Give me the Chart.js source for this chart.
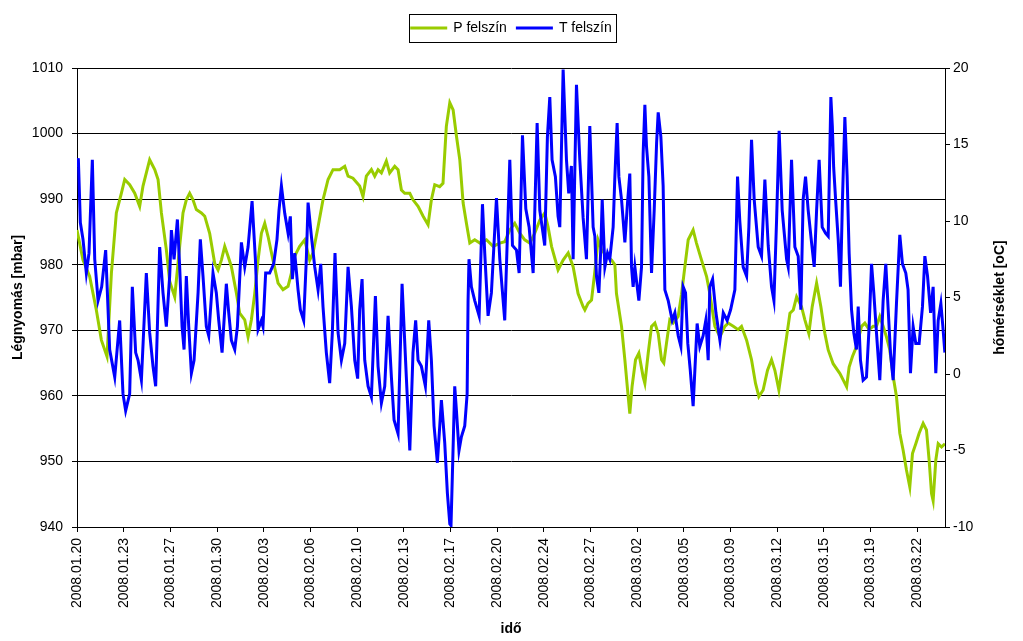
<!DOCTYPE html>
<html>
<head>
<meta charset="utf-8">
<script src="https://cdn.jsdelivr.net/npm/chart.js@4.4.0/dist/chart.umd.min.js"></script>
<style>
  html, body { margin: 0; padding: 0; background: #fff; }
</style>
</head>
<body>
<canvas id="chart" width="1023" height="641"></canvas>
<script>
// --- Datos: idő napokban 2008.01.20-tól ---
const tickLabels = [
  '2008.01.20', '2008.01.23', '2008.01.27', '2008.01.30', '2008.02.03',
  '2008.02.06', '2008.02.10', '2008.02.13', '2008.02.17', '2008.02.20',
  '2008.02.24', '2008.02.27', '2008.03.02', '2008.03.05', '2008.03.09',
  '2008.03.12', '2008.03.15', '2008.03.19', '2008.03.22'
];
const tickStep = 3.5; // nap

// P felszín [mbar]
const pDays = [
  0, 0.45, 0.95, 1.45, 1.83, 2.25, 2.58, 2.95, 3.33, 3.58,
  3.95, 4.33, 4.7, 4.95, 5.2, 5.45, 5.83, 6.08, 6.33, 6.7,
  6.95, 7.33, 7.7, 7.95, 8.2, 8.45, 8.7, 8.95, 9.33, 9.58,
  9.95, 10.33, 10.58, 10.83, 11.08, 11.33, 11.58, 11.96, 12.2, 12.58,
  12.83, 13.08, 13.33, 13.58, 13.83, 14.08, 14.33, 14.7, 15.08, 15.45,
  15.83, 16.08, 16.2, 16.45, 16.7, 17.08, 17.45, 17.7, 18.08, 18.45,
  18.83, 19.2, 19.7, 20.08, 20.33, 20.7, 21.2, 21.45, 21.7, 22.08,
  22.33, 22.58, 22.83, 23.2, 23.45, 23.83, 24.08, 24.33, 24.58, 24.96,
  25.2, 25.58, 25.96, 26.33, 26.58, 26.83, 27.2, 27.45, 27.7, 27.96,
  28.21, 28.46, 28.71, 28.96, 29.21, 29.46, 29.83, 30.21, 30.71, 31.21,
  31.71, 32.08, 32.46, 32.83, 33.21, 33.58, 33.96, 34.33, 34.71, 35.08,
  35.33, 35.59, 36.08, 36.46, 36.84, 37.21, 37.58, 37.96, 38.09, 38.33,
  38.59, 38.84, 39.08, 39.34, 39.71, 40.09, 40.34, 40.46, 40.84, 41.09,
  41.29, 41.46, 41.63, 41.89, 42.14, 42.46, 42.59, 42.84, 43.09, 43.34,
  43.59, 43.84, 44.01, 44.21, 44.46, 44.71, 45.09, 45.34, 45.59, 45.84,
  46.21, 46.46, 46.84, 47.22, 47.46, 47.84, 48.22, 48.59, 48.84, 49.22,
  49.59, 49.84, 50.22, 50.59, 50.89, 51.14, 51.46, 51.79, 52.09, 52.34,
  52.64, 52.89, 53.22, 53.47, 53.72, 53.97, 54.34, 54.59, 54.89, 55.14,
  55.47, 55.79, 56.09, 56.34, 56.71, 57.22, 57.47, 57.72, 57.91, 58.16,
  58.46, 58.84, 59.09, 59.41, 59.71, 59.96, 60.21, 60.46, 60.71, 60.96,
  61.21, 61.46, 61.71, 61.96, 62.21, 62.46, 62.66, 62.91, 63.16, 63.46,
  63.71, 63.91, 64.09, 64.21, 64.41, 64.59, 64.84, 65.09
];
const pValues = [
  985.3, 980.7, 978.2, 973.1, 968.5, 966.0, 978.7, 987.9, 990.9, 993.0,
  992.2, 990.9, 988.9, 992.0, 994.0, 996.0, 994.5, 993.0, 987.9, 982.3,
  977.5, 975.1, 982.8, 987.9, 989.9, 990.9, 989.9, 988.4, 987.9, 987.4,
  984.8, 980.2, 979.2, 980.7, 982.8, 981.3, 979.7, 975.6, 972.6, 971.6,
  969.0, 971.6, 975.6, 980.7, 984.8, 986.3, 984.3, 980.7, 977.2, 976.2,
  976.7, 978.7, 980.7, 981.8, 982.8, 983.8, 980.7, 981.8, 985.8, 989.9,
  993.0, 994.5, 994.5, 995.0, 993.5, 993.2, 992.0, 990.4, 993.5, 994.5,
  993.5, 994.5, 994.0, 995.8, 994.0, 995.0, 994.5, 991.4, 990.9, 990.9,
  989.9, 988.9, 987.4, 986.1, 989.9, 992.2, 991.9, 992.4, 1001.1, 1004.7,
  1003.6, 999.6, 996.0, 989.4, 986.3, 983.3, 983.8, 983.3, 983.8, 982.8,
  983.3, 983.5, 985.3, 986.3, 984.8, 983.8, 983.3, 984.8, 986.8, 987.9,
  985.8, 982.8, 979.2, 980.7, 981.8, 979.7, 975.6, 973.6, 973.1, 974.1,
  974.6, 979.0, 983.8, 982.3, 981.3, 980.7, 980.0, 975.6, 970.6, 965.5,
  961.0, 957.3, 961.4, 965.5, 966.5, 962.9, 961.9, 966.5, 970.6, 971.1,
  969.5, 965.5, 965.0, 968.0, 971.6, 971.1, 972.1, 975.5, 979.7, 983.8,
  985.3, 983.3, 980.7, 978.2, 975.6, 970.6, 969.0, 970.6, 971.1, 970.6,
  970.1, 970.6, 968.5, 965.5, 961.9, 959.9, 960.9, 963.9, 965.5, 963.9,
  960.9, 964.4, 969.0, 972.6, 973.1, 975.1, 973.6, 971.6, 969.5, 973.6,
  977.2, 973.6, 969.5, 967.0, 964.9, 963.4, 962.4, 961.4, 964.4, 966.0,
  967.5, 970.6, 971.1, 970.1, 970.6, 970.6, 972.1, 970.6, 969.0, 967.0,
  963.0, 959.9, 954.3, 951.7, 948.7, 946.1, 951.2, 952.7, 954.3, 955.8,
  954.8, 950.2, 945.1, 944.0, 950.2, 952.7, 952.2, 952.7
];

// T felszín [oC]
const tDays = [
  0, 0.1, 0.25, 0.45, 0.7, 0.9, 1.15, 1.33, 1.58, 1.85,
  2.15, 2.45, 2.83, 3.2, 3.45, 3.65, 3.95, 4.15, 4.4, 4.58,
  4.83, 5.2, 5.45, 5.7, 5.9, 6.2, 6.45, 6.7, 6.95, 7.08,
  7.28, 7.53, 7.7, 7.88, 8.03, 8.2, 8.38, 8.58, 8.78, 9.08,
  9.25, 9.45, 9.7, 9.88, 10.2, 10.45, 10.63, 10.88, 11.2, 11.38,
  11.58, 11.83, 12.03, 12.33, 12.58, 12.83, 13.13, 13.38, 13.58, 13.83,
  13.95, 14.15, 14.45, 14.75, 15.0, 15.15, 15.33, 15.58, 15.83, 16.0,
  16.15, 16.33, 16.58, 16.75, 17.0, 17.2, 17.33, 17.58, 17.83, 18.08,
  18.28, 18.45, 18.7, 18.95, 19.15, 19.35, 19.58, 19.83, 20.08, 20.33,
  20.58, 20.83, 21.05, 21.2, 21.38, 21.58, 21.83, 22.08, 22.38, 22.58,
  22.83, 23.08, 23.33, 23.58, 23.78, 24.08, 24.38, 24.7, 24.96, 25.2,
  25.4, 25.58, 25.83, 26.13, 26.38, 26.58, 26.78, 27.03, 27.33, 27.58,
  27.78, 27.96, 28.05, 28.15, 28.33, 28.45, 28.65, 28.83, 29.08, 29.26,
  29.33, 29.4, 29.58, 29.83, 30.16, 30.41, 30.58, 30.83, 31.08, 31.46,
  31.71, 32.08, 32.46, 32.66, 32.96, 33.16, 33.41, 33.66, 33.91, 34.21,
  34.51, 34.71, 35.08, 35.28, 35.46, 35.63, 35.88, 36.08, 36.21, 36.46,
  36.71, 36.88, 37.08, 37.21, 37.46, 37.71, 37.96, 38.21, 38.46, 38.71,
  38.84, 38.96, 39.14, 39.29, 39.39, 39.59, 39.79, 39.96, 40.21, 40.34,
  40.51, 40.64, 40.84, 41.09, 41.29, 41.46, 41.59, 41.71, 41.84, 41.96,
  42.14, 42.34, 42.46, 42.59, 42.71, 42.89, 43.09, 43.29, 43.47, 43.59,
  43.79, 43.96, 44.09, 44.34, 44.64, 44.84, 45.09, 45.29, 45.46, 45.64,
  45.81, 45.99, 46.21, 46.51, 46.71, 46.96, 47.16, 47.34, 47.46, 47.67,
  47.92, 48.22, 48.47, 48.76, 49.02, 49.34, 49.54, 49.71, 49.96, 50.22,
  50.39, 50.59, 50.79, 51.09, 51.34, 51.59, 51.84, 52.09, 52.27, 52.47,
  52.66, 52.89, 53.22, 53.34, 53.59, 53.84, 54.09, 54.29, 54.46, 54.64,
  54.84, 55.09, 55.29, 55.47, 55.66, 55.89, 56.14, 56.34, 56.54, 56.65,
  56.75, 56.91, 57.09, 57.26, 57.41, 57.59, 57.76, 57.91, 58.09, 58.26,
  58.46, 58.59, 58.76, 58.96, 59.21, 59.41, 59.59, 59.76, 59.96, 60.21,
  60.46, 60.66, 60.84, 61.01, 61.21, 61.46, 61.71, 61.91, 62.16, 62.33,
  62.51, 62.71, 62.91, 63.16, 63.41, 63.59, 63.79, 64.02, 64.21, 64.41,
  64.59, 64.79, 64.94, 65.09
];
const tValues = [
  13.5, 14.1, 9.9, 8.8, 6.6, 7.9, 14.0, 7.5, 4.8, 5.7,
  8.1, 1.6, -0.2, 3.5, -1.3, -2.4, -1.3, 5.7, 1.4, 0.9,
  -0.4, 6.6, 2.7, 0.5, -0.8, 8.3, 5.3, 3.1, 6.4, 9.4,
  7.5, 10.1, 7.0, 3.1, 1.6, 6.4, 3.1, 0.05, 0.9, 5.3,
  8.8, 6.4, 3.1, 2.5, 6.6, 5.3, 3.5, 1.4, 5.9, 4.0,
  2.2, 1.6, 3.1, 8.6, 7.0, 8.3, 11.3, 7.5, 2.9, 3.5,
  3.1, 6.6, 6.6, 7.2, 8.8, 10.7, 12.3, 10.5, 9.2, 10.3,
  6.2, 7.9, 5.5, 4.2, 3.5, 7.5, 11.2, 9.0, 7.0, 5.5,
  7.2, 4.4, 1.4, -0.6, 2.7, 7.9, 2.7, 0.9, 2.0, 7.0,
  4.4, 0.9, -0.3, 4.2, 6.2, 0.9, -0.8, -1.5, 5.1, 0.5,
  -1.9, -0.8, 3.8, -0.2, -3.0, -3.9, 5.9, -0.2, -5.0, 1.4,
  3.5, 0.9, 0.5, -0.8, 3.5, 0.9, -3.4, -5.8, -1.7, -4.5,
  -7.8, -9.8, -9.9, -6.7, -0.8, -2.3, -5.0, -4.1, -3.4, -1.3,
  4.8, 7.5, 5.7, 4.8, 3.8, 11.1, 7.9, 3.8, 5.3, 11.5,
  7.5, 3.5, 14.0, 8.4, 8.1, 6.6, 15.6, 10.8, 9.6, 6.6,
  16.4, 10.7, 8.4, 15.5, 18.1, 14.0, 12.9, 10.3, 9.6, 19.9,
  14.0, 11.8, 13.6, 7.5, 18.9, 14.0, 10.2, 7.5, 16.2, 9.6,
  9.0, 6.4, 5.3, 8.3, 11.4, 7.0, 7.9, 7.5, 9.6, 12.9,
  16.4, 12.9, 11.4, 8.6, 11.2, 13.1, 7.0, 5.7, 7.0, 6.1,
  4.8, 7.0, 14.4, 17.6, 14.9, 12.9, 6.6, 10.7, 15.1, 17.1,
  15.5, 12.3, 5.5, 4.8, 3.5, 4.0, 2.5, 1.8, 5.7, 5.3,
  2.0, 0.3, -2.1, 3.3, 1.8, 2.5, 3.5, 0.9, 5.7, 6.2,
  4.0, 2.2, 4.0, 3.5, 4.2, 5.5, 12.9, 10.0, 7.0, 6.4,
  9.6, 15.3, 11.4, 8.3, 7.7, 12.7, 8.4, 5.7, 4.8, 10.1,
  15.9, 10.7, 7.5, 7.0, 14.0, 8.3, 7.7, 4.2, 11.4, 12.9,
  10.7, 8.6, 7.0, 10.7, 14.0, 9.6, 9.2, 9.0, 18.1, 16.2,
  13.5, 11.2, 8.8, 5.7, 11.4, 16.8, 12.9, 7.9, 4.2, 2.7,
  1.6, 4.4, 0.9, -0.4, -0.2, 3.1, 7.2, 5.3, 2.7, -0.4,
  4.8, 7.2, 4.2, 1.4, -0.4, 4.6, 9.1, 7.2, 6.6, 5.5,
  0.05, 3.1, 2.0, 2.0, 4.4, 7.7, 6.4, 4.0, 5.7, 0.05,
  3.5, 4.6, 3.1, 1.4
];

const FONT = '"Liberation Sans", Arial, sans-serif';
const rightTitle = 'hőmérséklet [oC]';

// keret a jelmagyarázat köré, hely alatta, jobb oldali tengelycím
const chartExtras = {
  id: 'chartExtras',
  beforeLayout(chart) {
    const lg = chart.legend;
    if (lg && !lg._fixedHeight) {
      const fit = lg.fit;
      lg.fit = function () { fit.call(this); this.height = 57; };
      lg._fixedHeight = true;
    }
  },
  afterDraw(chart) {
    const ctx = chart.ctx;
    const boxes = chart.legend && chart.legend.legendHitBoxes;
    if (boxes && boxes.length) {
      const first = boxes[0];
      const last = boxes[boxes.length - 1];
      const cy = Math.round(first.top + first.height / 2);
      ctx.save();
      ctx.strokeStyle = '#000';
      ctx.lineWidth = 1;
      ctx.strokeRect(Math.round(first.left) - 1.5, cy - 13.5,
        Math.round(last.left + last.width - first.left) + 6, 28);
      ctx.restore();
    }
    // jobb tengely címe, alulról felfelé olvasva (mint a bal oldali)
    const s = chart.scales.y1;
    const area = chart.chartArea;
    ctx.save();
    ctx.translate(s.right - 23, (area.top + area.bottom) / 2);
    ctx.rotate(-Math.PI / 2);
    ctx.font = 'bold 14px ' + FONT;
    ctx.fillStyle = '#000';
    ctx.textAlign = 'center';
    ctx.textBaseline = 'middle';
    ctx.fillText(rightTitle, 0, 0);
    ctx.restore();
  }
};

const ctx = document.getElementById('chart').getContext('2d');
new Chart(ctx, {
  type: 'line',
  data: {
    datasets: [{
      label: 'P felszín',
      data: pDays.map((d, i) => ({ x: d, y: pValues[i] })),
      yAxisID: 'y',
      borderColor: '#99CC00',
      backgroundColor: '#99CC00',
      borderWidth: 3,
      pointRadius: 0,
      order: 1
    }, {
      label: 'T felszín',
      data: tDays.map((d, i) => ({ x: d, y: tValues[i] })),
      yAxisID: 'y1',
      borderColor: '#0000FF',
      backgroundColor: '#0000FF',
      borderWidth: 3,
      pointRadius: 0,
      order: 0
    }]
  },
  options: {
    responsive: false,
    animation: false,
    events: [],
    layout: { padding: { top: 11, left: 0, right: 0, bottom: 0 } },
    plugins: {
      legend: {
        position: 'top',
        labels: {
          boxWidth: 35,
          boxHeight: 1,
          padding: 10,
          color: '#000',
          font: { family: FONT, size: 14 },
          sort: (a, b) => a.datasetIndex - b.datasetIndex,
          generateLabels: (chart) =>
            Chart.defaults.plugins.legend.labels.generateLabels(chart)
              .map(l => Object.assign(l, { lineWidth: 2 }))
        }
      },
      tooltip: { enabled: false }
    },
    scales: {
      x: {
        type: 'linear',
        min: 0,
        max: 65.1,
        afterBuildTicks: (s) => {
          s.ticks = tickLabels.map((_, i) => ({ value: i * tickStep }));
        },
        afterFit: (s) => { s.height = 114; },
        ticks: {
          callback: (v, i) => tickLabels[i],
          autoSkip: false,
          minRotation: 90,
          maxRotation: 90,
          padding: 6,
          color: '#000',
          font: { family: FONT, size: 14 }
        },
        grid: { drawOnChartArea: false, color: '#000', tickLength: 5 },
        border: { color: '#000' },
        title: {
          display: true,
          text: 'idő',
          color: '#000',
          font: { family: FONT, size: 14, weight: 'bold' },
          padding: { top: 0, bottom: 3 }
        }
      },
      y: {
        position: 'left',
        min: 940,
        max: 1010,
        afterFit: (s) => { s.width = 77; },
        ticks: {
          stepSize: 10,
          padding: 9,
          color: '#000',
          font: { family: FONT, size: 14 },
          callback: (v) => String(v)
        },
        grid: { color: '#000', tickLength: 5 },
        border: { color: '#000' },
        title: {
          display: true,
          text: 'Légnyomás [mbar]',
          color: '#000',
          font: { family: FONT, size: 14, weight: 'bold' },
          padding: { top: 10, bottom: 0 }
        }
      },
      y1: {
        position: 'right',
        min: -10,
        max: 20,
        afterFit: (s) => { s.width = 78; },
        ticks: {
          stepSize: 5,
          padding: 3,
          color: '#000',
          font: { family: FONT, size: 14 },
          callback: (v) => String(v)
        },
        grid: { drawOnChartArea: false, color: '#000', tickLength: 5 },
        border: { color: '#000' }
      }
    }
  },
  plugins: [chartExtras]
});
</script>
</body>
</html>
